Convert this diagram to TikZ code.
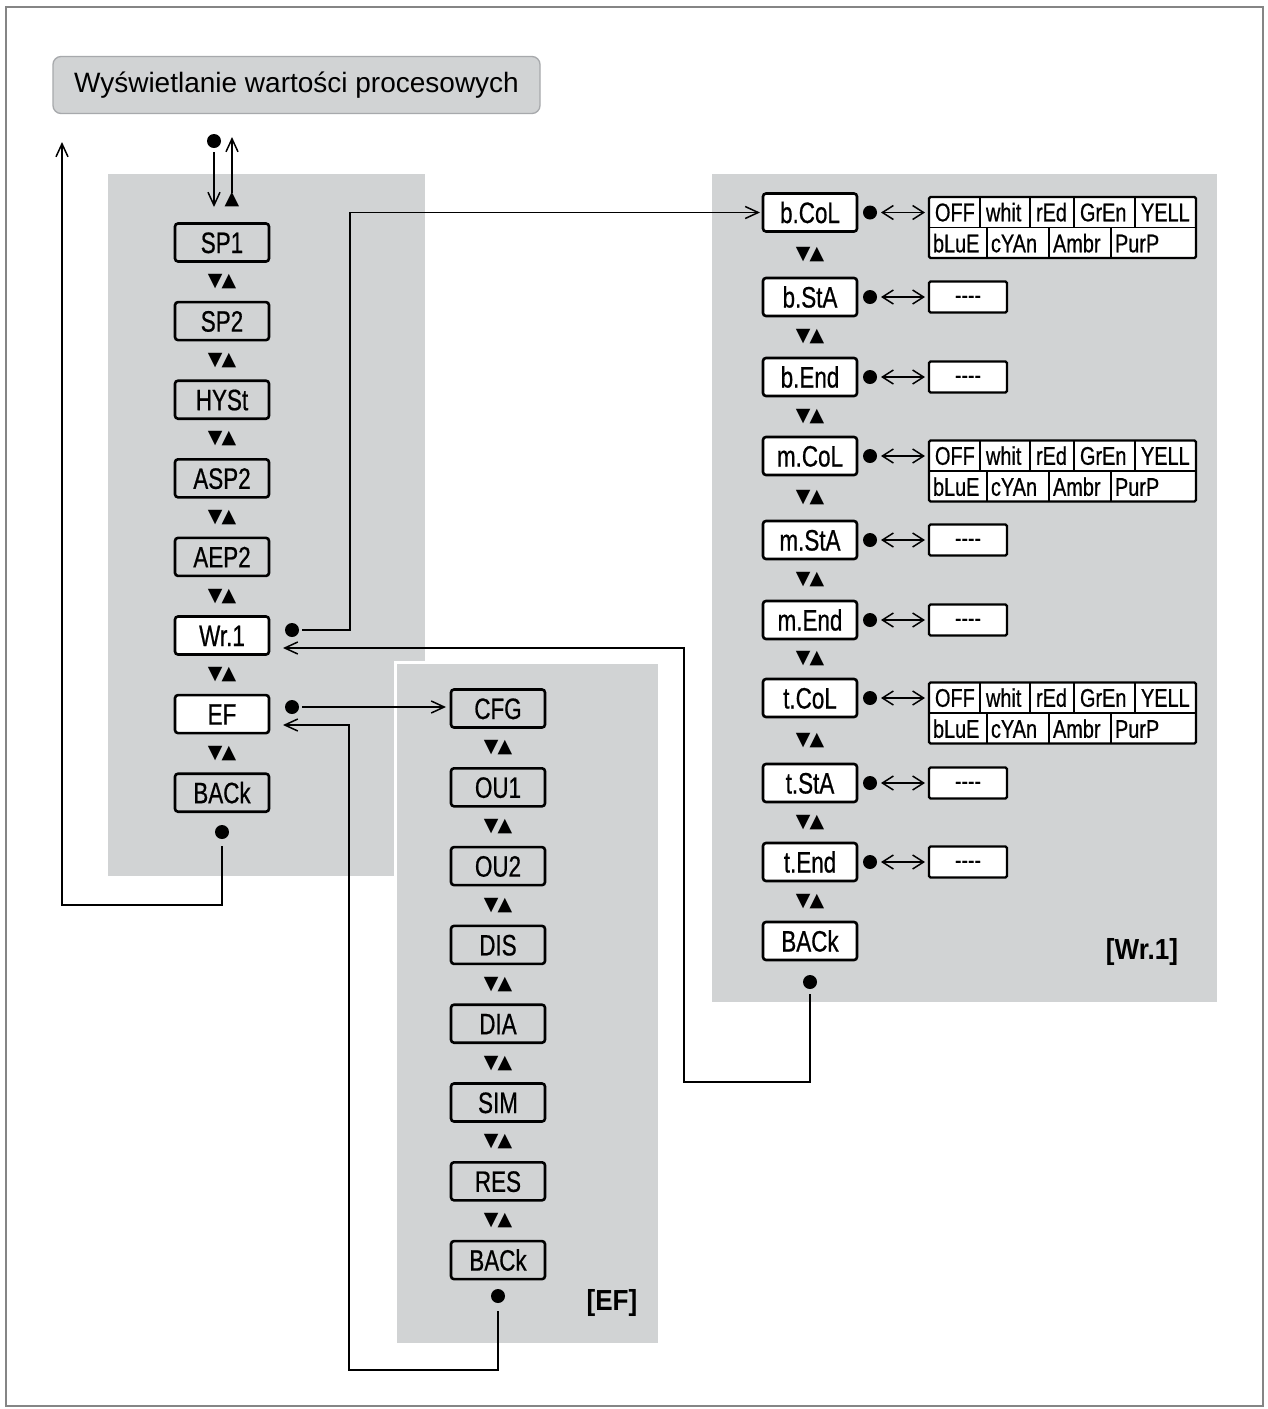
\documentclass[tikz,border=0pt]{standalone}
\usepackage{fontspec}
\setmainfont{Liberation Sans}
\newfontfamily\condfont{Liberation Sans}[FakeStretch=0.76,FakeBold=0.6]
\newfontfamily\optfont{Liberation Sans}[FakeStretch=0.78,FakeBold=0.6]
\newfontfamily\lblfont{Liberation Sans}[FakeStretch=0.9]
\newfontfamily\symfont{DejaVu Sans}
\usetikzlibrary{arrows.meta,calc}
\definecolor{panelgray}{HTML}{D1D3D4}
\definecolor{hdrborder}{HTML}{A7A9AC}
\definecolor{framegray}{HTML}{858585}
\newcommand\coltable[2]{%
  \node[tbl, anchor=north west] (#1) at (929,#2-15.5) {};
  \draw[tblsep] (#1.west) -- (#1.east);
  \foreach \dx in {51,101,145,206}
    \draw[tblsep] ($(#1.north west)+(\dx,0)$) -- ($(#1.west)+(\dx,0)$);
  \foreach \dx in {58,120,182}
    \draw[tblsep] ($(#1.west)+(\dx,0)$) -- ($(#1.south west)+(\dx,0)$);
  \foreach \dx/\lab/\k in {0/OFF/1,51/whit/2,101/rEd/3,145/GrEn/4,206/YELL/5}
    \node[opt, anchor=west] (#1-a\k) at ($(#1.north west)+(\dx+6,15.25)$) {\lab};
  \foreach \dx/\lab/\k in {0/bLuE/1,58/cYAn/2,120/Ambr/3,182/PurP/4}
    \node[opt, anchor=west] (#1-b\k) at ($(#1.north west)+(\dx+4,46.25)$) {\lab};
}
\begin{document}
\begin{tikzpicture}[x=1pt,y=-1pt,
  every node/.style={outer sep=0pt},
  header/.style={fill=panelgray, draw=hdrborder, line width=1.3pt, rounded corners=8pt,
    minimum width=487pt, minimum height=57pt, inner sep=0pt,
    font=\fontsize{28}{28}\selectfont},
  item/.style={draw=black, line width=2.6pt, rounded corners=3pt, minimum width=94pt,
    minimum height=38pt, inner sep=0pt, text height=21pt, text depth=0pt,
    font=\condfont\fontsize{29.5}{29.5}\selectfont},
  small/.style={draw=black, fill=white, line width=2.4pt, rounded corners=1.5pt,
    minimum width=78pt, minimum height=31pt, inner sep=0pt, text height=13pt, text depth=0pt,
    font=\optfont\fontsize{25}{25}\selectfont},
  tbl/.style={draw=black, fill=white, line width=2.4pt, rounded corners=1.5pt,
    minimum width=267pt, minimum height=61pt, inner sep=0pt},
  tblsep/.style={line width=1.4pt},
  opt/.style={inner sep=0pt, text height=18pt, text depth=0pt,
    font=\optfont\fontsize{25.5}{25.5}\selectfont},
  updown/.style={inner sep=0pt, font=\symfont\fontsize{19}{19}\selectfont},
  dot/.style={circle, fill=black, minimum size=14pt, inner sep=0pt},
  lbl/.style={inner sep=0pt, font=\lblfont\bfseries\fontsize{29}{29}\selectfont},
  conn/.style={line width=1.5pt, -{Straight Barb[length=13pt,width=12pt]}},
  dbl/.style={line width=1.5pt, {Straight Barb[length=11pt,width=14pt]}-{Straight Barb[length=11pt,width=14pt]},
    shorten <=4pt, shorten >=4pt}
]
\useasboundingbox (0,0) rectangle (1268,1409);
\fill[white] (0,0) rectangle (1268,1409);
\draw[framegray, line width=2pt] (6,7) rectangle (1263,1406);

% header
\node[header] (hdr) at (296.5,85) {Wyświetlanie wartości procesowych};

% panels
\fill[panelgray] (108,174) rectangle (425,876);
\fill[white] (394,661) rectangle (661,1346);
\fill[panelgray] (397,664) rectangle (658,1343);
\fill[panelgray] (712,174) rectangle (1217,1002);

% left column
\foreach \n/\lab/\y/\fl in {1/SP1/242.5/none,2/SP2/321.1/none,3/HYSt/399.7/none,4/ASP2/478.3/none,
  5/AEP2/556.9/none,6/Wr.1/635.5/white,7/EF/714.1/white,8/BACk/792.7/none}
  \node[item, fill=\fl] (L\n) at (222,\y) {\lab};
\foreach \a/\b in {1/2,2/3,3/4,4/5,5/6,6/7,7/8}
  \path (L\a.south) -- (L\b.north) node[midway, updown] (uL\a) {▼\kern-1pt▲};

% EF column
\foreach \n/\lab/\y in {1/CFG/708.5,2/OU1/787.3,3/OU2/866.1,4/DIS/944.9,5/DIA/1023.7,
  6/SIM/1102.5,7/RES/1181.3,8/BACk/1260.1}
  \node[item, fill=none] (E\n) at (498,\y) {\lab};
\foreach \a/\b in {1/2,2/3,3/4,4/5,5/6,6/7,7/8}
  \path (E\a.south) -- (E\b.north) node[midway, updown] (uE\a) {▼\kern-1pt▲};
\node[lbl] (efLabel) at (612,1303) {[EF]};

% Wr.1 column
\foreach \n/\lab/\y in {1/b.CoL/212.5,2/b.StA/297,3/b.End/377,4/m.CoL/456,5/m.StA/540,
  6/m.End/620,7/t.CoL/698,8/t.StA/783,9/t.End/862,10/BACk/941}
  \node[item, fill=white] (R\n) at (810,\y) {\lab};
\foreach \a/\b in {1/2,2/3,3/4,4/5,5/6,6/7,7/8,8/9,9/10}
  \path (R\a.south) -- (R\b.north) node[midway, updown] (uR\a) {▼\kern-1pt▲};
\node[lbl] (wrLabel) at (1142,952) {[Wr.1]};

\foreach \n/\y in {1/212.5,2/297,3/377,4/456,5/540,6/620,7/698,8/783,9/862}
  \node[dot] (Rd\n) at (870,\y) {};
\foreach \n/\y in {2/297,3/377,5/540,6/620,8/783,9/862}
  \node[small] (Ro\n) at (968,\y) {\mbox{-}\mbox{-}\mbox{-}\mbox{-}};
\coltable{Ro1}{212.5}
\coltable{Ro4}{456}
\coltable{Ro7}{698}
\foreach \n in {1,...,9}
  \draw[dbl] (Rd\n) -- (Rd\n -| Ro\n.west);

% top entry / exit
\node[dot] (topdot) at (214,141) {};
\coordinate (topin) at (214,207);
\draw[conn, shorten <=4pt] (topdot) -- (topin);
\node[updown] (topup) at (232,200) {▲};
\coordinate (topout) at (232,137);
\draw[conn] (topup.north) -- (topout);

% left BACk return
\node[dot] (dL) at (222,832) {};
\coordinate (cL1) at (222,905);
\coordinate (retL) at (62,142);
\draw[conn, shorten <=7pt] (dL) -- (cL1) -| (retL);

% Wr.1 -> b.CoL
\node[dot] (dWr) at (292,630) {};
\coordinate (cW1) at (350,630);
\draw[conn, shorten <=3pt, shorten >=3pt] (dWr) -- (cW1) |- (R1);

% Wr.1 BACk return
\node[dot] (dWB) at (810,982) {};
\coordinate (cR1) at (810,1082);
\coordinate (cR2) at (684,1082);
\coordinate (cR3) at (684,648);
\draw[conn, shorten <=5pt, shorten >=14pt] (dWB) -- (cR1) -- (cR2) -- (cR3) -- (L6.east |- cR3);

% EF -> CFG
\node[dot] (dEF) at (292,707) {};
\draw[conn, shorten <=3pt, shorten >=5pt] (dEF) -- (E1.west |- dEF);

% EF BACk return
\node[dot] (dEB) at (498,1296) {};
\coordinate (cE1) at (498,1370);
\coordinate (cE2) at (349,1370);
\coordinate (cE3) at (349,725);
\draw[conn, shorten <=8pt, shorten >=14pt] (dEB) -- (cE1) -- (cE2) -- (cE3) -- (L7.east |- cE3);
\end{tikzpicture}
\end{document}
